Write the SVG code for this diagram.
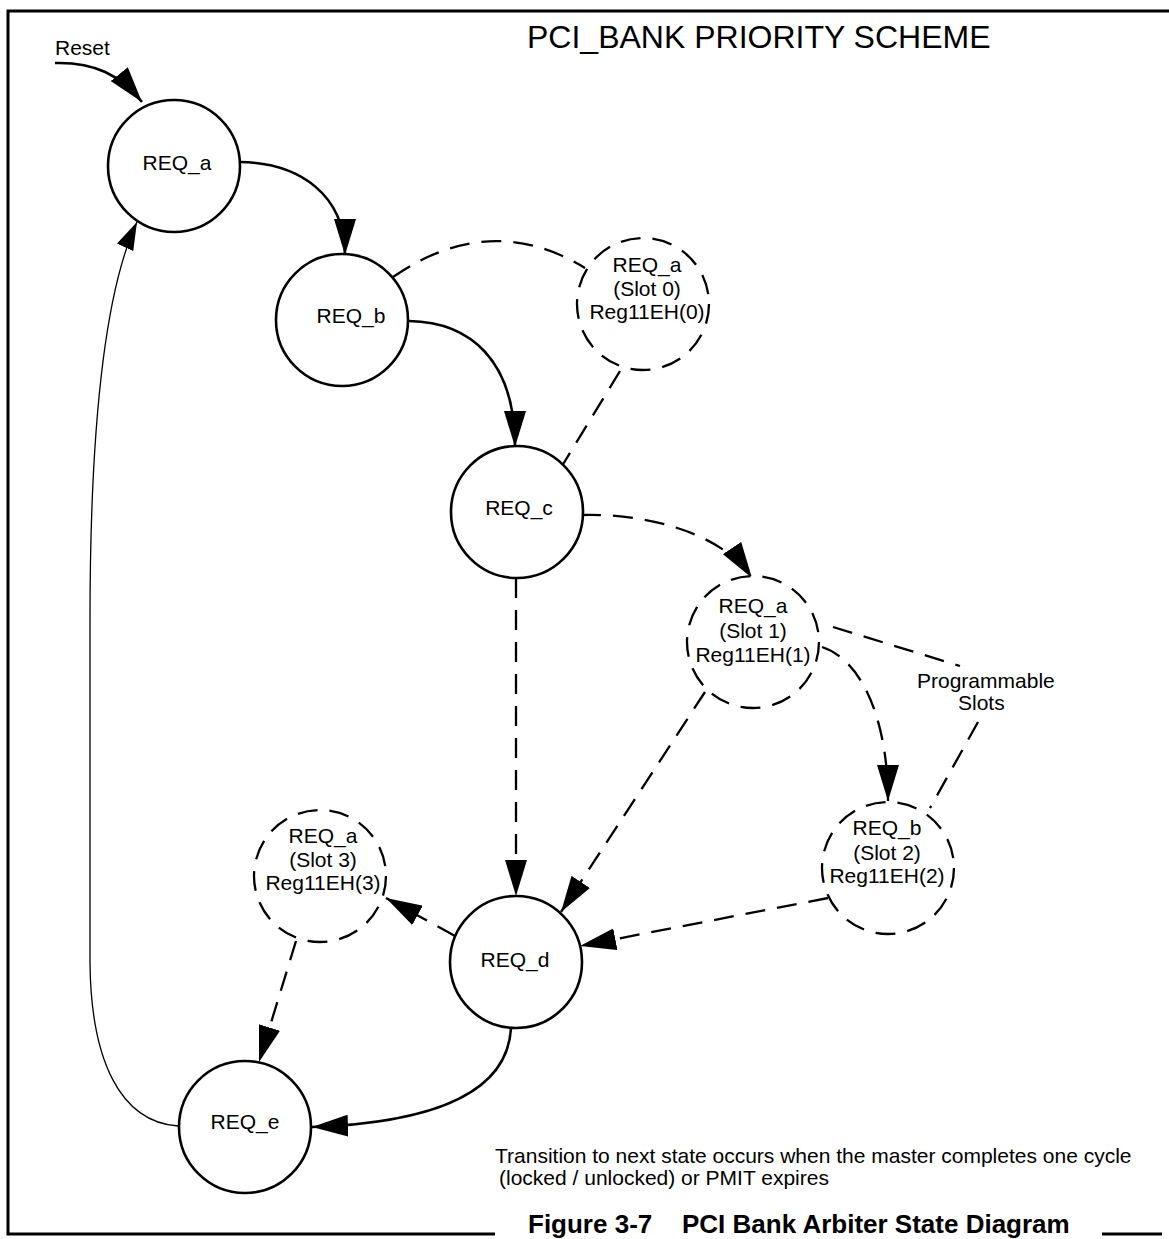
<svg xmlns="http://www.w3.org/2000/svg" width="1169" height="1239" viewBox="0 0 1169 1239">
<style>
  text { font-family: "Liberation Sans", Arial, sans-serif; fill: #000; }
  .lbl { font-size: 21px; text-anchor: middle; }
  .state { fill: #fff; stroke: #000; stroke-width: 2.6; }
  .slot { fill: #fff; stroke: #000; stroke-width: 2.3; stroke-dasharray: 20 12; }
  .solid { fill: none; stroke: #000; stroke-width: 2.6; }
  .thin { fill: none; stroke: #000; stroke-width: 1.3; }
  .dash { fill: none; stroke: #000; stroke-width: 2.3; stroke-dasharray: 20 12; }
  .frame { fill: none; stroke: #000; stroke-width: 3; }
</style>
<defs>
  <marker id="ah" markerUnits="userSpaceOnUse" markerWidth="36" markerHeight="22" refX="36" refY="11" orient="auto">
    <path d="M0,0 L36,11 L0,22 Z" fill="#000"/>
  </marker>
  <marker id="ahs" markerUnits="userSpaceOnUse" markerWidth="28" markerHeight="18" refX="28" refY="9" orient="auto">
    <path d="M0,0 L28,9 L0,18 Z" fill="#000"/>
  </marker>
</defs>
<rect width="1169" height="1239" fill="#fff"/>

<g id="frame">
  <path class="frame" d="M1169,11 L8,11 L8,1234 L495,1234"/>
  <path class="frame" d="M1102,1234 L1162,1234"/>
</g>

<text x="527" y="48" font-size="32">PCI_BANK PRIORITY SCHEME</text>
<text x="55" y="55" font-size="21">Reset</text>

<g id="connectors">
  <path class="solid" d="M55,63 C95,62 120,75 142,102" marker-end="url(#ah)"/>
  <path class="solid" d="M240,162 C300,163 345,195 345,255" marker-end="url(#ah)"/>
  <path class="solid" d="M409,321 C470,322 515,360 515,447" marker-end="url(#ah)"/>
  <path class="dash" d="M393,277 Q490,210 585,268"/>
  <path class="dash" d="M620,371 L562,466"/>
  <path class="dash" d="M581,515 C640,513 720,530 752,578" marker-end="url(#ah)"/>
  <path class="dash" d="M516,578 L516,896" marker-end="url(#ah)"/>
  <path class="dash" d="M822,647 C862,660 888,720 888,801" marker-end="url(#ah)"/>
  <path class="dash" d="M833,627 L960,666"/>
  <path class="dash" d="M978,722 L930,808"/>
  <path class="dash" d="M705,692 L561,912" marker-end="url(#ah)"/>
  <path class="dash" d="M828,898 L580,946" marker-end="url(#ah)"/>
  <path class="dash" d="M455,936 L386,898" marker-end="url(#ah)"/>
  <path class="dash" d="M296,941 L259,1062" marker-end="url(#ah)"/>
  <path class="solid" d="M511,1028 C508,1085 450,1122 312,1127" marker-end="url(#ah)"/>
  <path class="thin" d="M178,1126 C120,1122 91,1060 90,963 L90,620 C90,420 105,290 137,222" marker-end="url(#ahs)"/>
</g>

<g id="REQ_a">
  <circle class="state" cx="174" cy="166" r="66"/>
  <text class="lbl" x="177" y="170">REQ_a</text>
</g>
<g id="REQ_b">
  <circle class="state" cx="342" cy="320" r="66"/>
  <text class="lbl" x="351" y="323">REQ_b</text>
</g>
<g id="REQ_c">
  <circle class="state" cx="517" cy="512" r="66"/>
  <text class="lbl" x="519" y="515">REQ_c</text>
</g>
<g id="REQ_d">
  <circle class="state" cx="516" cy="962" r="66"/>
  <text class="lbl" x="515" y="967">REQ_d</text>
</g>
<g id="REQ_e">
  <circle class="state" cx="245" cy="1127" r="66"/>
  <text class="lbl" x="245" y="1129">REQ_e</text>
</g>

<g id="slot0">
  <circle class="slot" cx="643" cy="304" r="66"/>
  <text class="lbl" x="647" y="272">REQ_a</text>
  <text class="lbl" x="647" y="296">(Slot 0)</text>
  <text class="lbl" x="647" y="319">Reg11EH(0)</text>
</g>
<g id="slot1">
  <circle class="slot" cx="753" cy="642" r="66"/>
  <text class="lbl" x="753" y="613">REQ_a</text>
  <text class="lbl" x="753" y="638">(Slot 1)</text>
  <text class="lbl" x="753" y="662">Reg11EH(1)</text>
</g>
<g id="slot2">
  <circle class="slot" cx="888" cy="868" r="66"/>
  <text class="lbl" x="887" y="835">REQ_b</text>
  <text class="lbl" x="887" y="860">(Slot 2)</text>
  <text class="lbl" x="887" y="883">Reg11EH(2)</text>
</g>
<g id="slot3">
  <circle class="slot" cx="320" cy="876" r="66"/>
  <text class="lbl" x="323" y="843">REQ_a</text>
  <text class="lbl" x="323" y="867">(Slot 3)</text>
  <text class="lbl" x="323" y="890">Reg11EH(3)</text>
</g>

<g id="programmable">
  <text x="917" y="688" font-size="21">Programmable</text>
  <text x="958" y="710" font-size="21">Slots</text>
</g>

<text x="495" y="1163" font-size="21">Transition to next state occurs when the master completes one cycle</text>
<text x="499" y="1185" font-size="21">(locked / unlocked) or PMIT expires</text>

<g id="caption" font-weight="bold" font-size="26">
  <text x="528" y="1233">Figure 3-7</text>
  <text x="682" y="1233">PCI Bank Arbiter State Diagram</text>
</g>
</svg>
